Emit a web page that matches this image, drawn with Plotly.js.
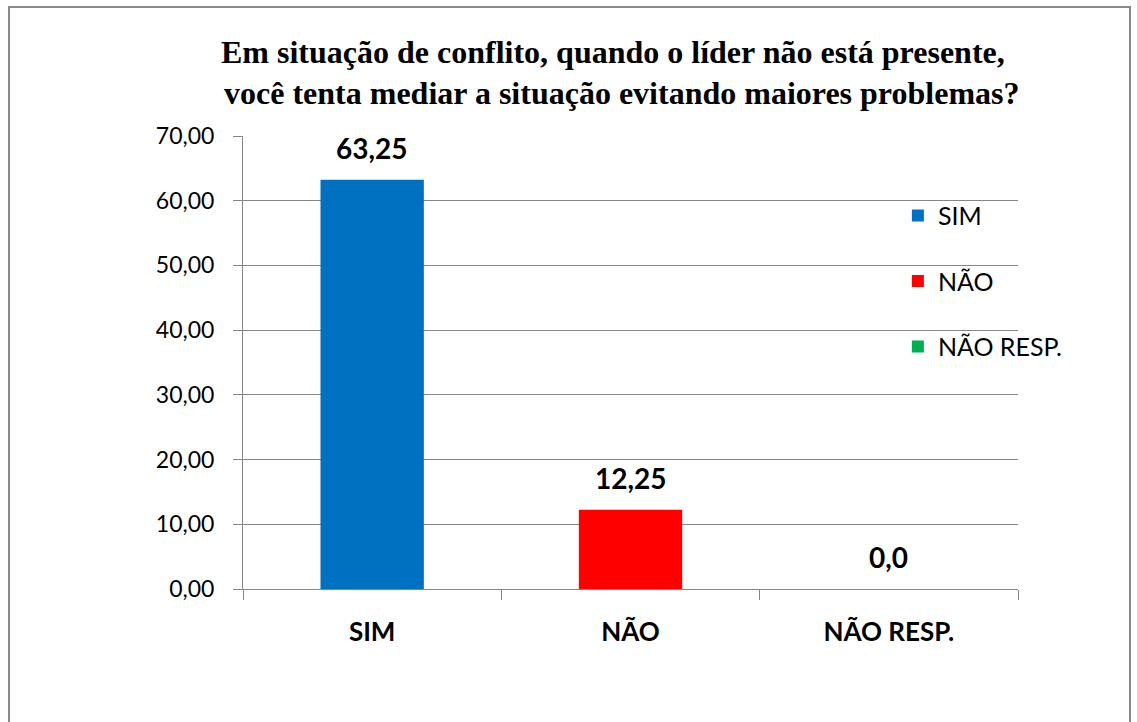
<!DOCTYPE html>
<html>
<head>
<meta charset="utf-8">
<script src="https://cdn.plot.ly/plotly-3.0.1.min.js"></script>
<style>
html,body{margin:0;padding:0;background:#fff;}
#chart{width:1137px;height:722px;}
</style>
</head>
<body>
<div id="chart"></div>
<script>
const categories = ['SIM', 'NÃO', 'NÃO RESP.'];
const values = [63.25, 12.25, 0.0];
const valueLabels = ['63,25', '12,25', '0,0'];
const colors = ['#0070C0', '#FF0000', '#00B050'];
const titleLines = ['Em situação de conflito, quando o líder não está presente,', 'você tenta mediar a situação evitando maiores problemas?'];
const yTicks = [0, 10, 20, 30, 40, 50, 60, 70];

const traces = categories.map((c, i) => ({
  type: 'bar',
  name: c,
  x: [c],
  y: [values[i]],
  width: 0.4,
  marker: {color: colors[i]},
  legendgroup: 'g' + i,
  hoverinfo: 'x+y'
}));

const annotations = categories.map((c, i) => ({
  x: c, y: values[i], xref: 'x', yref: 'y',
  text: '<b>' + valueLabels[i] + '</b>',
  showarrow: false, yanchor: 'bottom', yshift: 13,
  font: {family: 'Lato, sans-serif', size: 28, color: '#000'}
}));

// Title lines (two centred lines, placed as paper annotations)
const titleY = [1.186, 1.095];
const titleX = [0.477, 0.488];
titleLines.forEach((t, i) => annotations.push({
  xref: 'paper', yref: 'paper', x: titleX[i], y: titleY[i],
  xanchor: 'center', yanchor: 'middle', showarrow: false,
  text: '<b>' + t + '</b>',
  font: {family: '"Liberation Serif", "Times New Roman", serif', size: 32, color: '#000'}
}));

const layout = {
  width: 1137, height: 722,
  margin: {l: 243, r: 119, t: 136, b: 133},
  paper_bgcolor: '#fff', plot_bgcolor: '#fff',
  separators: ',.',
  barmode: 'overlay',
  xaxis: {
    type: 'category',
    categoryorder: 'array', categoryarray: categories,
    showline: true, linecolor: '#868686', linewidth: 1,
    ticks: 'outside', tickson: 'boundaries', ticklen: 10, tickcolor: '#868686',
    showgrid: false,
    tickfont: {family: 'Lato, sans-serif', size: 26, color: '#000', weight: 'bold'},
    ticklabelstandoff: 20,
    fixedrange: true
  },
  yaxis: {
    range: [0, 70], tickvals: yTicks, tickformat: '.2f',
    showline: true, linecolor: '#868686', linewidth: 1,
    ticks: 'outside', ticklen: 9, tickcolor: '#868686',
    showgrid: true, gridcolor: '#868686', gridwidth: 1,
    zeroline: false,
    tickfont: {family: 'Lato, sans-serif', size: 23, color: '#000'},
    ticklabelstandoff: 14,
    fixedrange: true
  },
  legend: {
    x: 0.845, xanchor: 'left', xref: 'paper',
    y: 0.875, yanchor: 'top', yref: 'paper',
    bgcolor: 'rgba(0,0,0,0)',
    font: {family: 'Lato, sans-serif', size: 25, color: '#000'},
    tracegroupgap: 30,
    itemclick: false, itemdoubleclick: false
  },
  annotations: annotations,
  shapes: [{
    type: 'rect', xref: 'paper', yref: 'paper',
    x0: (9 - 243) / 775, x1: (1130 - 243) / 775,
    y0: -0.4, y1: (589 - 7) / 453,
    line: {color: '#898989', width: 2}, fillcolor: 'rgba(0,0,0,0)',
    layer: 'below'
  }],
  showlegend: true
};

Plotly.newPlot('chart', traces, layout, {displayModeBar: false, responsive: false});
</script>
</body>
</html>
